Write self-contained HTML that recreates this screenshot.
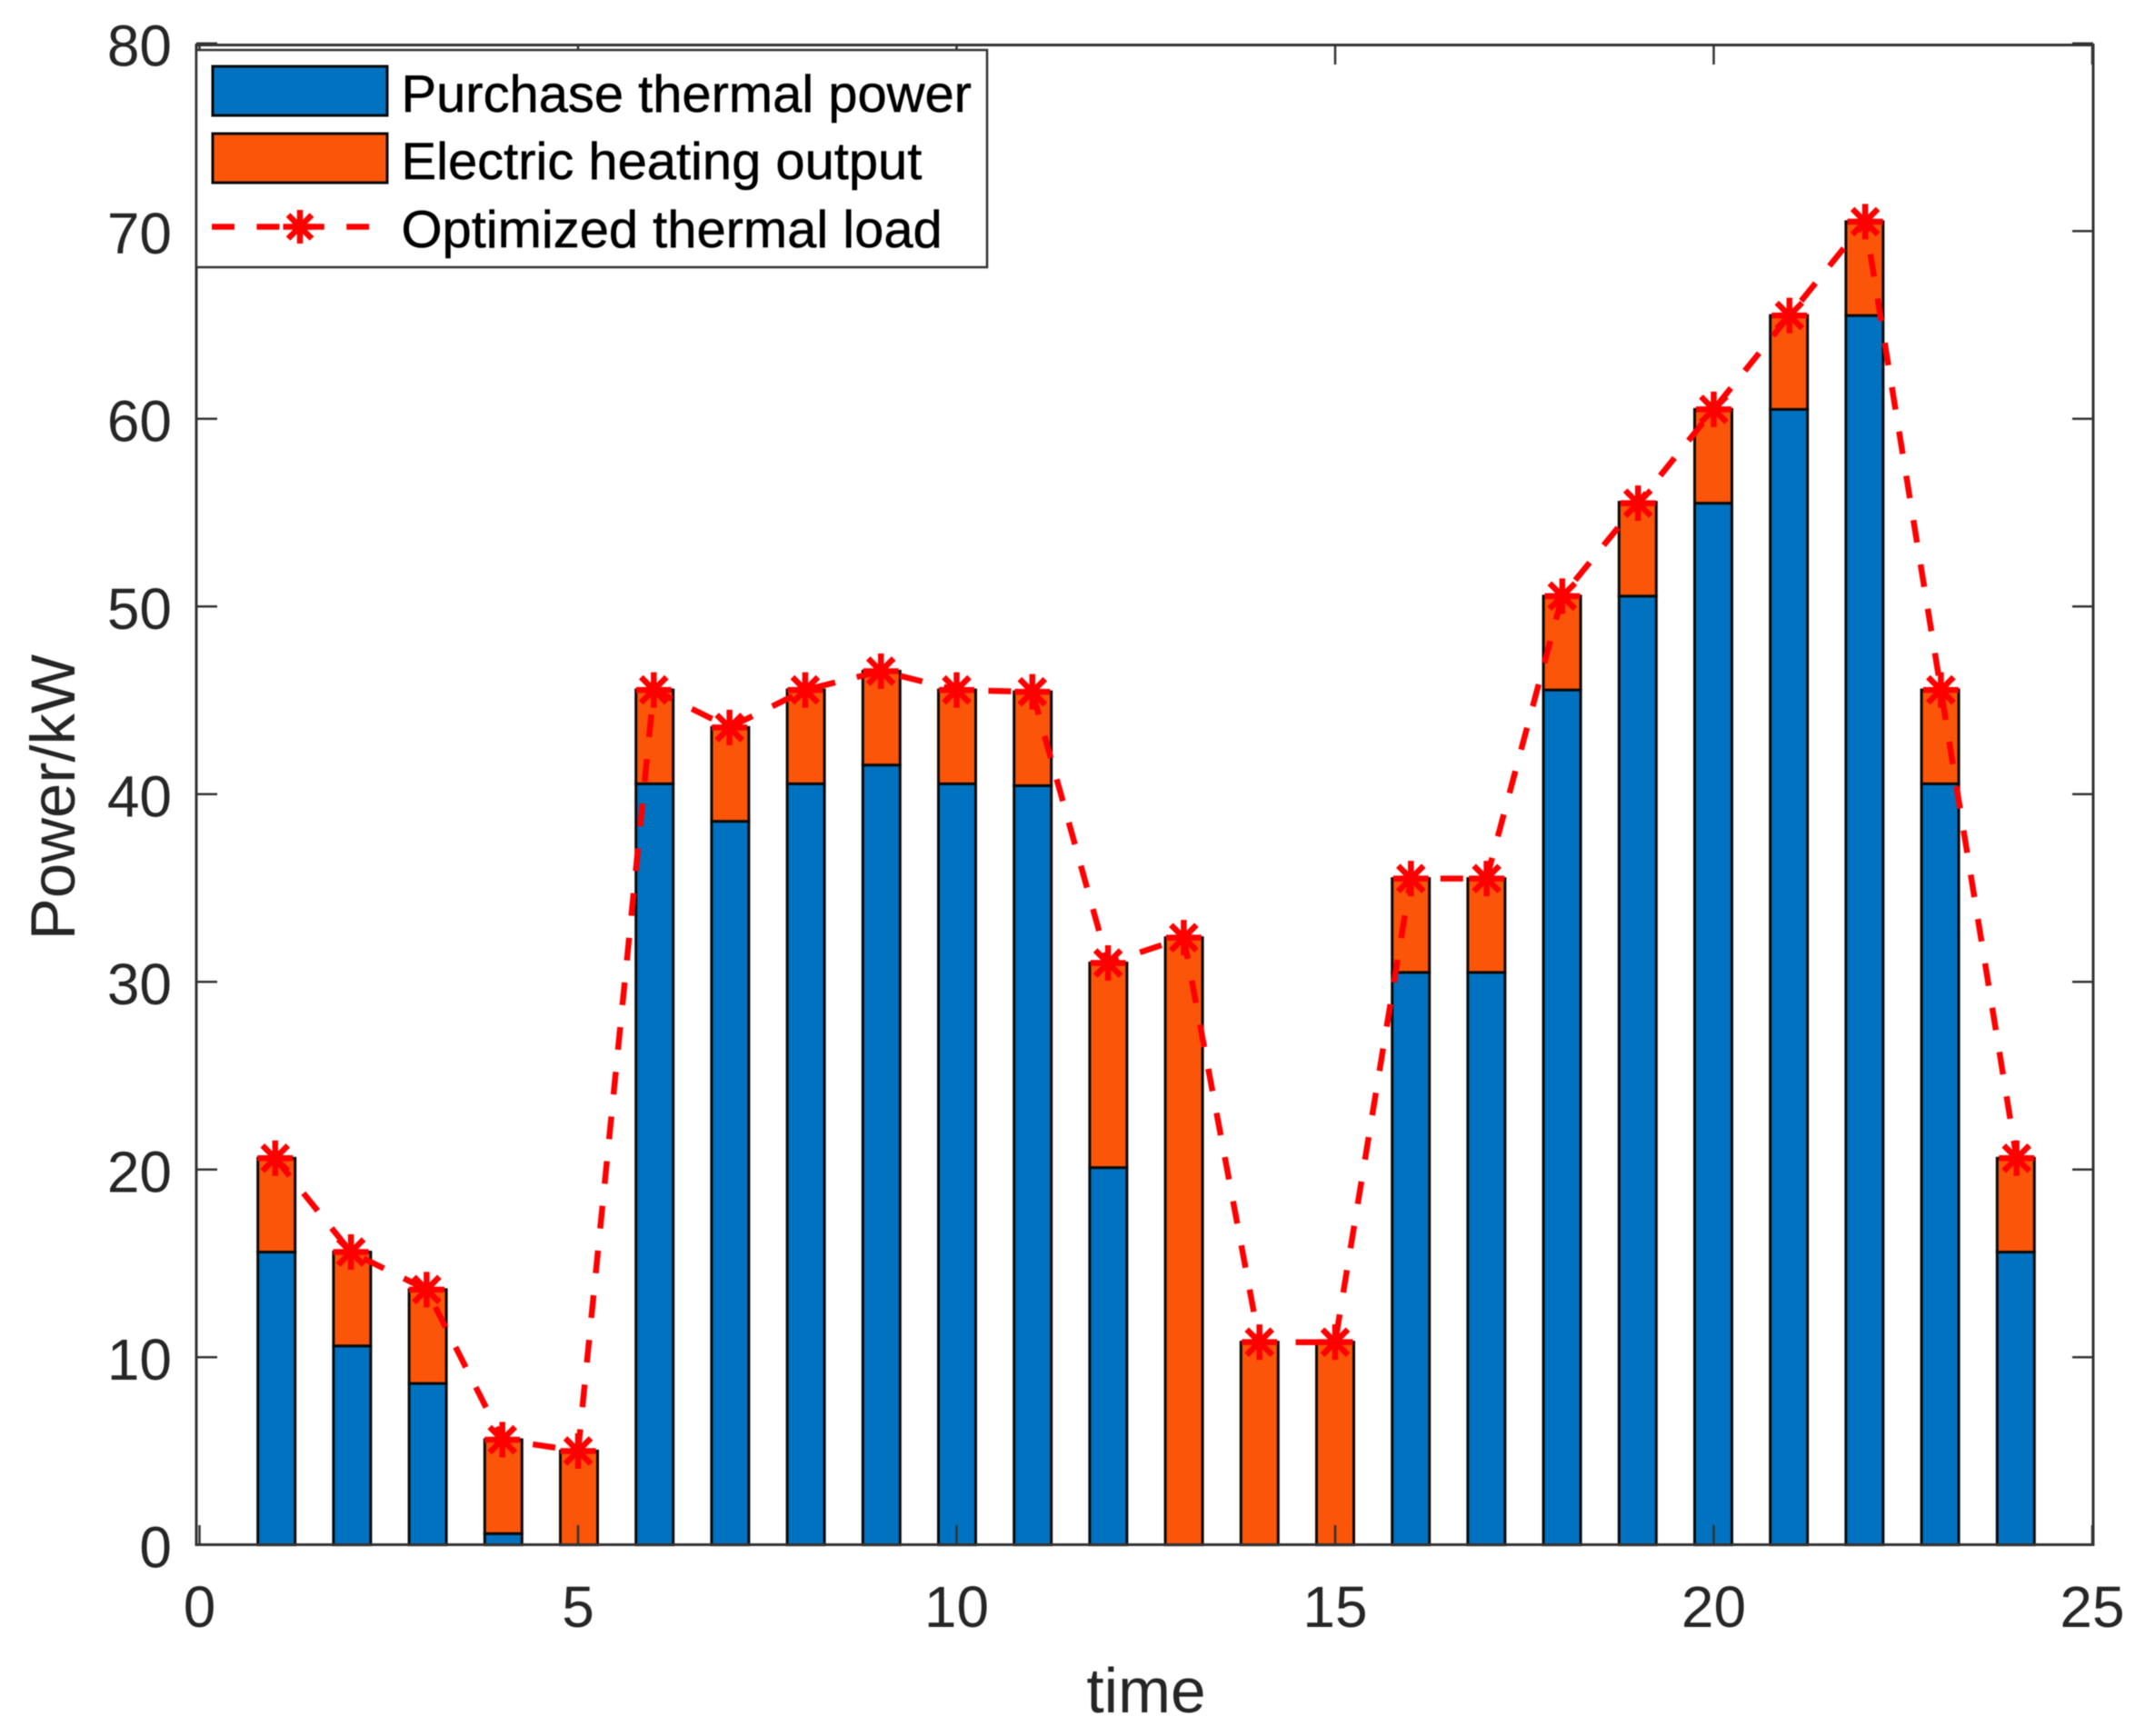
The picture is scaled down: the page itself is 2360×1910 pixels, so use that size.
<!DOCTYPE html>
<html lang="en">
<head>
<meta charset="utf-8">
<title>Power chart</title>
<style>
html,body{margin:0;padding:0;background:#fff;}
svg{display:block;filter:blur(0.55px);}
text{font-family:"Liberation Sans",Arial,sans-serif;}
</style>
</head>
<body>
<svg id="chart" xmlns="http://www.w3.org/2000/svg" width="2360" height="1910" viewBox="0 0 2360 1910">
  <rect x="0" y="0" width="2360" height="1910" fill="#ffffff"/>
  <g id="bars"></g>
  <g id="axes">
    <rect x="216" y="49.5" width="2087" height="1650" fill="none" stroke="#333333" stroke-width="3"/>
    <g id="xticks"></g>
    <g id="yticks"></g>
  </g>
  <g id="series"></g>
  <text x="1261" y="1884" font-size="69.5" text-anchor="middle" fill="#262626">time</text>
  <text transform="translate(82,877) rotate(-90)" font-size="69" text-anchor="middle" fill="#262626">Power/kW</text>
  <g id="legend">
    <rect x="216" y="55" width="870" height="239" fill="#ffffff" stroke="#333333" stroke-width="2.5"/>
    <rect x="234" y="73" width="192" height="54" fill="#0072c0" stroke="#0a0a0a" stroke-width="3"/>
    <text x="441.5" y="123" font-size="57.9" fill="#000000" stroke="#000000" stroke-width="0.5">Purchase thermal power</text>
    <rect x="234" y="147" width="192" height="54" fill="#fa5508" stroke="#0a0a0a" stroke-width="3"/>
    <text x="441.5" y="197" font-size="57.9" fill="#000000" stroke="#000000" stroke-width="0.5">Electric heating output</text>
    <line x1="233" y1="249.5" x2="407" y2="249.5" stroke="#ff0000" stroke-width="6.5" stroke-dasharray="25 24.4"/>
    <path d="M330 231V268M311.500 249.500H348.500M317 236.500L343 262.500M343 236.500L317 262.500" fill="none" stroke="#ff0000" stroke-width="6.5"/>
    <text x="441.5" y="272" font-size="57.9" fill="#000000" stroke="#000000" stroke-width="0.5">Optimized thermal load</text>
  </g>
</svg>
<script>
const hours = [1,2,3,4,5,6,7,8,9,10,11,12,13,14,15,16,17,18,19,20,21,22,23,24];
const purchaseThermal = [15.6,10.6,8.6,0.6,0,40.55,38.55,40.55,41.55,40.55,40.45,20.1,0,0,0,30.5,30.5,45.55,50.55,55.5,60.5,65.5,40.55,15.6];
const electricHeating = [5,5,5,5,5,5,5,5,5,5,5,10.9,32.35,10.8,10.8,5,5,5,5,5,5,5,5,5];
const optimizedLoad = [20.6,15.6,13.6,5.6,5,45.55,43.55,45.55,46.55,45.55,45.45,31,32.35,10.8,10.8,35.5,35.5,50.55,55.5,60.5,65.5,70.5,45.55,20.6];
const xTickValues = [0,5,10,15,20,25];
const yTickValues = [0,10,20,30,40,50,60,70,80];

const NS = 'http://www.w3.org/2000/svg';
function xAxis(v){ return 219.5 + 83.3 * v; }
function yAxis(v){ return 1699.7 - 20.65 * v; }
function barCenter(v){ return 221 + 83.2 * v; }
const barHalf = 20.5;

function make(tag, attrs, parent){
  const el = document.createElementNS(NS, tag);
  for (const k in attrs) el.setAttribute(k, attrs[k]);
  parent.appendChild(el);
  return el;
}

const barsLayer = document.getElementById('bars');
hours.forEach(function(h, i){
  const cx = barCenter(h);
  const base = purchaseThermal[i];
  const top = base + electricHeating[i];
  const blue = make('rect', {x: cx - barHalf, y: yAxis(base), width: barHalf * 2, height: Math.max(0, yAxis(0) - yAxis(base)), fill: '#0072c0', stroke: '#0a0a0a', 'stroke-width': 3}, barsLayer);
  
  
  const orange = make('rect', {x: cx - barHalf, y: yAxis(top), width: barHalf * 2, height: Math.max(0, yAxis(base) - yAxis(top)), fill: '#fa5508', stroke: '#0a0a0a', 'stroke-width': 3}, barsLayer);
  
  
});

const xt = document.getElementById('xticks');
xTickValues.forEach(function(v){
  const x = xAxis(v);
  const b = make('line', {x1: x, x2: x, y1: 1699.5, y2: 1678, stroke: '#333333', 'stroke-width': 2.5}, xt);
  
  
  const t = make('line', {x1: x, x2: x, y1: 49.5, y2: 71, stroke: '#333333', 'stroke-width': 2.5}, xt);
  
  
  const lab = make('text', {x: x, y: 1790, 'font-size': 64, 'text-anchor': 'middle', fill: '#262626'}, xt);
  
  
  lab.textContent = String(v);
});

const yt = document.getElementById('yticks');
yTickValues.forEach(function(v){
  const y = yAxis(v);
  const l = make('line', {x1: 216, x2: 239, y1: y, y2: y, stroke: '#333333', 'stroke-width': 2.5}, yt);
  
  
  const r = make('line', {x1: 2303, x2: 2280, y1: y, y2: y, stroke: '#333333', 'stroke-width': 2.5}, yt);
  
  
  const lab = make('text', {x: 189, y: y + 25, 'font-size': 64, 'text-anchor': 'end', fill: '#262626'}, yt);
  
  
  lab.textContent = String(v);
});

const seriesLayer = document.getElementById('series');
const points = hours.map(function(h, i){ return xAxis(h).toFixed(1) + ',' + yAxis(optimizedLoad[i]).toFixed(1); }).join(' ');
const loadLine = make('polyline', {points: points, fill: 'none', stroke: '#ff0000', 'stroke-width': 6.5, 'stroke-dasharray': '25 24.4'}, seriesLayer);


hours.forEach(function(h, i){
  const x = xAxis(h), y = yAxis(optimizedLoad[i]);
  const d = 'M' + x + ' ' + (y - 19.5) + 'V' + (y + 19.5) +
            'M' + (x - 19.5) + ' ' + y + 'H' + (x + 19.5) +
            'M' + (x - 14) + ' ' + (y - 14) + 'L' + (x + 14) + ' ' + (y + 14) +
            'M' + (x + 14) + ' ' + (y - 14) + 'L' + (x - 14) + ' ' + (y + 14);
  const m = make('path', {d: d, fill: 'none', stroke: '#ff0000', 'stroke-width': 6.5}, seriesLayer);
  
  
});
</script>
</body>
</html>
